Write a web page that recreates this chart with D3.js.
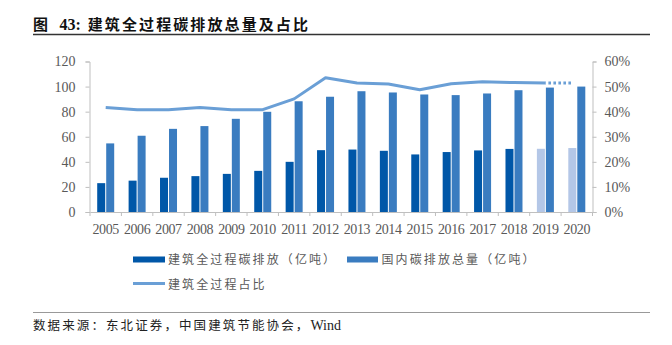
<!DOCTYPE html>
<html><head><meta charset="utf-8">
<script src="https://cdn.jsdelivr.net/npm/d3@7/dist/d3.min.js"></script>
<style>
html,body{margin:0;padding:0;background:#fff;}
svg{display:block;}
.serif{font-family:"Liberation Serif","Times New Roman","DejaVu Serif",serif !important;}
</style></head>
<body>
<svg id="c" width="672" height="345"></svg>
<script>
const years = ["2005","2006","2007","2008","2009","2010","2011","2012","2013","2014","2015","2016","2017","2018","2019","2020"];
const buildingEmission = [23,25,27.3,28.6,30.4,32.8,40,49.3,49.8,48.8,45.9,47.8,49.1,50.3,50.4,51];
const nationalEmission = [54.7,60.8,66.3,68.5,74.3,79.9,88.3,91.9,96.3,95.3,93.7,93.2,94.5,97.1,99.2,100];
const buildingShare = [0.417,0.408,0.408,0.417,0.408,0.408,0.451,0.535,0.514,0.510,0.487,0.511,0.519,0.516,0.514];
const estimateShare = [0.514,0.514];
const leftTicks = [0,20,40,60,80,100,120];
const rightTicks = [0,0.1,0.2,0.3,0.4,0.5,0.6];
const titlePrefix = "图 ";
const titleNum = "43: ";
const titleText = "建筑全过程碳排放总量及占比";
const sourceText = "数据来源：东北证券，中国建筑节能协会，";
const sourceTail = "Wind";
const legendNames = ["建筑全过程碳排放（亿吨）","国内碳排放总量（亿吨）","建筑全过程占比"];

const C_DARK = "#0057a8", C_MID = "#3a7cc0", C_PALE = "#b4c7e7", C_LINE = "#6a9fd6";
const AX = "#bfbfbf", TXT = "#595959";
const cjk = "'Noto Sans CJK SC','Noto Sans',sans-serif";

const svg = d3.select("#c");

// title
const tt = svg.append("text").attr("x",33).attr("y",30)
  .attr("font-family",cjk).attr("font-weight","bold").attr("font-size",15).attr("fill","#111");
tt.append("tspan").text(titlePrefix);
tt.append("tspan").attr("class","serif").attr("font-size",16).attr("dx",8).text(titleNum);
tt.append("tspan").attr("dx",3).attr("letter-spacing","2.1px").text(titleText);
svg.append("line").attr("x1",33).attr("x2",650).attr("y1",34.5).attr("y2",34.5)
  .attr("stroke","#333").attr("stroke-width",1.4);

const x = d3.scaleBand().domain(years).range([90,592.5]).padding(0);
const yL = d3.scaleLinear().domain([0,120]).range([212,61.5]);
const yR = d3.scaleLinear().domain([0,0.6]).range([212,61.5]);
const bw = 8;

// bars
const g = svg.append("g");
g.selectAll("rect.b1").data(years).join("rect")
  .attr("x",d=>x(d)+x.bandwidth()/2-bw-0.5)
  .attr("width",bw)
  .attr("y",(d,i)=>yL(buildingEmission[i]))
  .attr("height",(d,i)=>yL(0)-yL(buildingEmission[i]))
  .attr("fill",(d,i)=> i>=14 ? C_PALE : C_DARK);
g.selectAll("rect.b2").data(years).join("rect")
  .attr("x",d=>x(d)+x.bandwidth()/2+0.5)
  .attr("width",bw)
  .attr("y",(d,i)=>yL(nationalEmission[i]))
  .attr("height",(d,i)=>yL(0)-yL(nationalEmission[i]))
  .attr("fill",C_MID);

// left axis
const la = svg.append("g").attr("transform","translate(89.5,0)")
  .call(d3.axisLeft(yL).tickValues(leftTicks).tickSize(4).tickPadding(10).tickFormat(d3.format("d")));
la.select(".domain").attr("stroke",AX);
la.selectAll(".tick line").attr("stroke",AX);
la.selectAll("text").attr("class","serif").attr("font-size",14).attr("fill",TXT);

// right axis
const ra = svg.append("g").attr("transform","translate(592.5,0)")
  .call(d3.axisRight(yR).tickValues(rightTicks).tickSize(4).tickPadding(8).tickFormat(d3.format(".0%")));
ra.select(".domain").attr("stroke",AX);
ra.selectAll(".tick line").attr("stroke",AX);
ra.selectAll("text").attr("class","serif").attr("font-size",14).attr("fill",TXT);

// bottom axis
const ba = svg.append("g").attr("transform","translate(0,212)")
  .call(d3.axisBottom(x).tickSize(0).tickPadding(12));
ba.select(".domain").attr("stroke",AX);
ba.selectAll("text").attr("class","serif").attr("font-size",14).attr("fill",TXT).attr("letter-spacing","-0.4px");
svg.append("g").selectAll("line").data(years.concat(["end"])).join("line")
  .attr("x1",(d,i)=> i<years.length ? x(d) : x.range()[1])
  .attr("x2",(d,i)=> i<years.length ? x(d) : x.range()[1])
  .attr("y1",212).attr("y2",216).attr("stroke",AX);

// line
const cx = d => x(d)+x.bandwidth()/2;
const line = d3.line().x(d=>cx(d[0])).y(d=>yR(d[1])).curve(d3.curveLinear);
svg.append("path").datum(buildingShare.map((v,i)=>[years[i],v]))
  .attr("d",line).attr("fill","none").attr("stroke",C_LINE).attr("stroke-width",3).attr("stroke-linejoin","round");
svg.append("path").datum([[years[14],estimateShare[0]],[years[15],estimateShare[1]]])
  .attr("d",d3.line().x(d=>cx(d[0])-(d[0]==="2020"?5:0)).y(d=>yR(d[1])))
  .attr("fill","none").attr("stroke",C_LINE).attr("stroke-width",3)
  .attr("stroke-dasharray","2.6,2.4").attr("stroke-dashoffset",-3);

// legend
const lg = svg.append("g");
lg.append("rect").attr("x",133).attr("y",256.5).attr("width",32).attr("height",6).attr("fill",C_DARK);
lg.append("text").attr("x",168).attr("y",264).text(legendNames[0]);
lg.append("rect").attr("x",347).attr("y",256.5).attr("width",31).attr("height",6).attr("fill",C_MID);
lg.append("text").attr("x",381.5).attr("y",264).text(legendNames[1]);
lg.append("line").attr("x1",133).attr("x2",165).attr("y1",283.5).attr("y2",283.5).attr("stroke",C_LINE).attr("stroke-width",3);
lg.append("text").attr("x",168).attr("y",289).text(legendNames[2]);
lg.selectAll("text").attr("font-family",cjk).attr("font-size",12).attr("letter-spacing","2.1px").attr("fill",TXT);

// source
svg.append("line").attr("x1",33).attr("x2",650).attr("y1",312.5).attr("y2",312.5)
  .attr("stroke","#999").attr("stroke-width",1.2);
const st = svg.append("text").attr("x",33).attr("y",330)
  .attr("font-family",cjk).attr("font-size",12.5).attr("fill","#222");
st.append("tspan").attr("letter-spacing","2.1px").text(sourceText);
st.append("tspan").attr("class","serif").attr("font-size",14).text(sourceTail);
</script>
</body></html>
